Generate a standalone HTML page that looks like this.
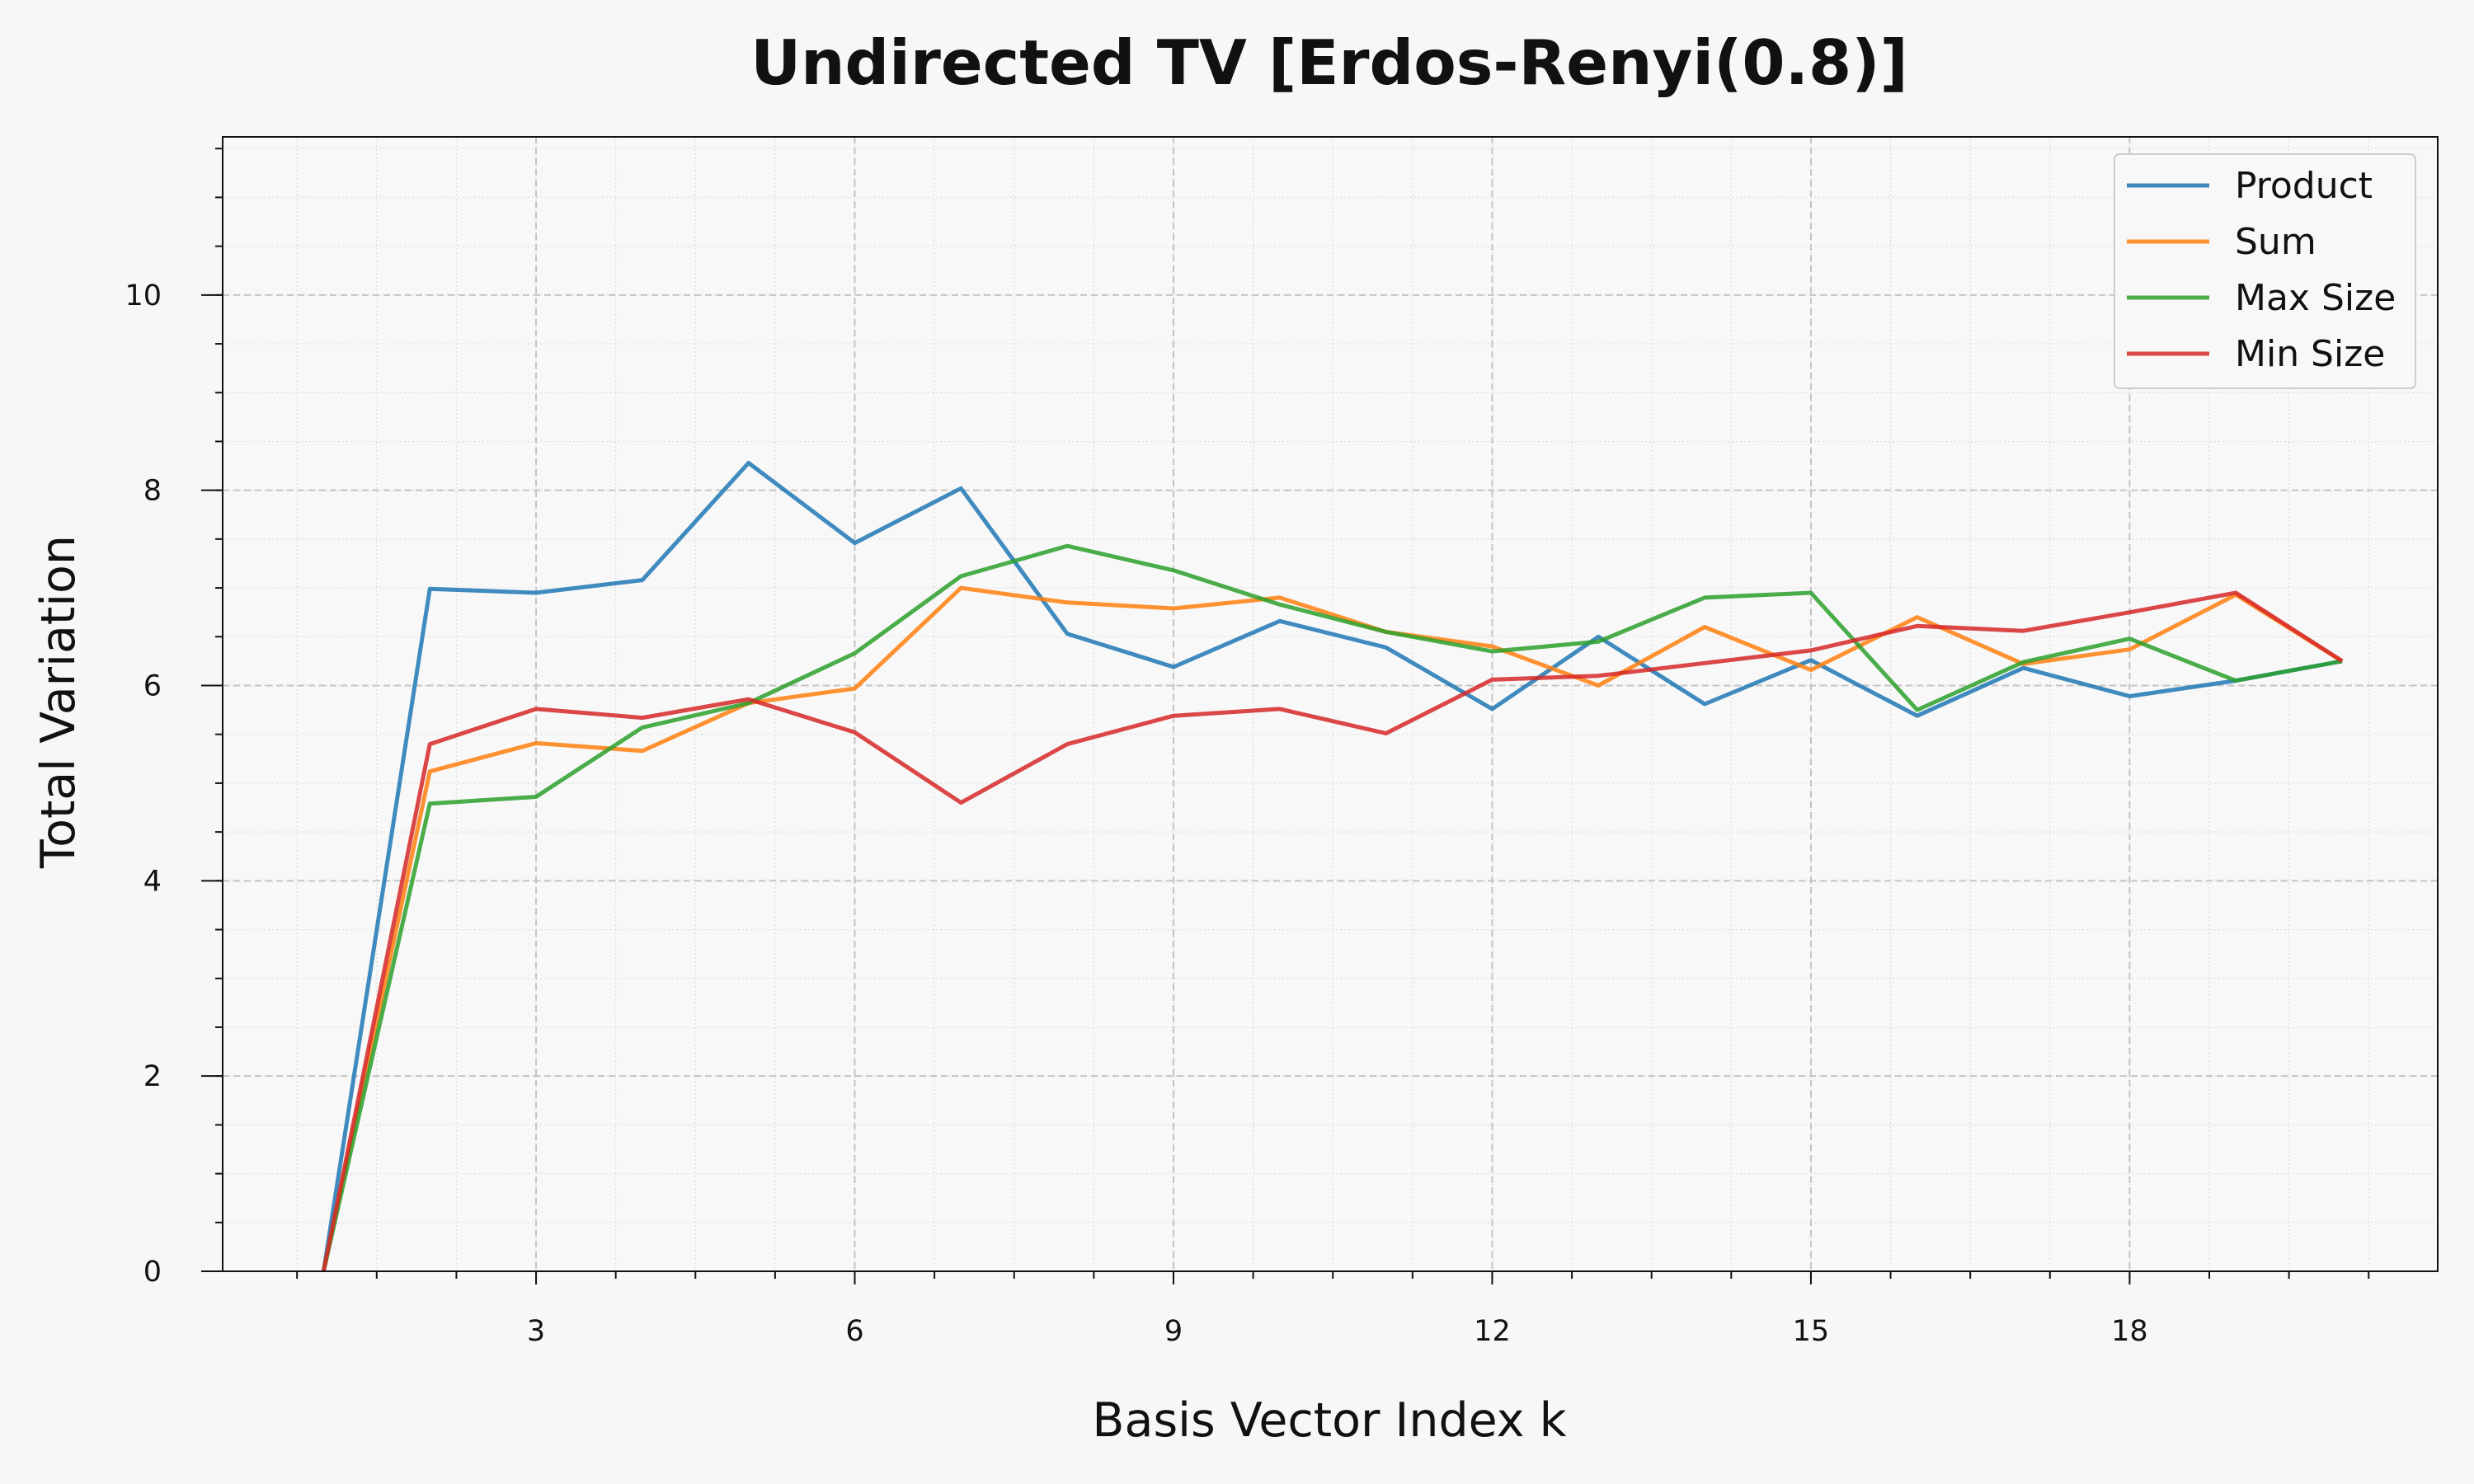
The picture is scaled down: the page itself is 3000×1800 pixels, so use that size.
<!DOCTYPE html>
<html><head><meta charset="utf-8"><style>
html,body{margin:0;padding:0;background:#f7f7f7;}
svg{display:block;font-family:"DejaVu Sans","Liberation Sans",sans-serif;}
</style></head><body>
<svg id="chart" width="3000" height="1800" viewBox="0 0 3000 1800">
<rect x="0" y="0" width="3000" height="1800" fill="#f7f7f7"/>
<text x="1612" y="102" text-anchor="middle" font-size="75" font-weight="bold" fill="#111">Undirected TV [Erdos-Renyi(0.8)]</text>
<g id="grid"></g>
<g id="axes"></g>
<g id="series"></g>
<rect x="270" y="166" width="2686" height="1376" fill="none" stroke="#111" stroke-width="2"/>
<text x="1612" y="1742" text-anchor="middle" font-size="57" fill="#111">Basis Vector Index k</text>
<text x="90" y="851" text-anchor="middle" font-size="57" fill="#111" transform="rotate(-90 90 851)">Total Variation</text>
<g id="legend"></g>
</svg>
<script>
const categories = [1,2,3,4,5,6,7,8,9,10,11,12,13,14,15,16,17,18,19,20];
const productVals = [0,6.99,6.95,7.08,8.28,7.46,8.02,6.53,6.19,6.66,6.39,5.76,6.5,5.81,6.26,5.69,6.18,5.89,6.05,6.25];
const sumVals = [0,5.12,5.41,5.33,5.82,5.97,7.0,6.85,6.79,6.9,6.55,6.4,6.0,6.6,6.16,6.7,6.22,6.37,6.93,6.25];
const maxSizeVals = [0,4.79,4.86,5.57,5.82,6.33,7.12,7.43,7.18,6.83,6.55,6.35,6.45,6.9,6.95,5.75,6.24,6.48,6.05,6.25];
const minSizeVals = [0,5.4,5.76,5.67,5.86,5.52,4.8,5.4,5.69,5.76,5.51,6.06,6.1,6.23,6.36,6.61,6.56,6.75,6.95,6.25];
const xTicks = [3,6,9,12,15,18];
const yTicks = [0,2,4,6,8,10];
const seriesNames = ["Product","Sum","Max Size","Min Size"];
const colors = ["#1f77b4","#ff7f0e","#2ca02c","#d62728"];

const NS="http://www.w3.org/2000/svg";
const L=270,R=2956,T=166,B=1542;
const xMin=0.05,xMax=20.9,yMin=0,yMax=11.62;
function xs(v){return L+(v-xMin)/(xMax-xMin)*(R-L);}
function ys(v){return B-(v-yMin)/(yMax-yMin)*(B-T);}
function mk(tag,attrs,parent){const e=document.createElementNS(NS,tag);for(const k in attrs)e.setAttribute(k,attrs[k]);parent.appendChild(e);return e;}
const grid=document.getElementById('grid'),axes=document.getElementById('axes'),ser=document.getElementById('series'),leg=document.getElementById('legend');
mk('rect',{x:L,y:T,width:R-L,height:B-T,fill:'#f8f8f8'},grid);
for(let v=0.75;v<xMax;v+=0.75){const x=xs(v);
 const l=mk('line',{x1:x,x2:x,y1:T,y2:B,stroke:'#ddd','stroke-width':1.2,'stroke-dasharray':'2,3'},grid);
 
 const t=mk('line',{x1:x,x2:x,y1:B,y2:B+9,stroke:'#111','stroke-width':2},axes);
 }
for(let v=0.5;v<yMax;v+=0.5){const y=ys(v);
 const l=mk('line',{x1:L,x2:R,y1:y,y2:y,stroke:'#ddd','stroke-width':1.2,'stroke-dasharray':'2,3'},grid);
 
 const t=mk('line',{x1:L-9,x2:L,y1:y,y2:y,stroke:'#111','stroke-width':2},axes);
 }
xTicks.forEach(v=>{const x=xs(v);
 const l=mk('line',{x1:x,x2:x,y1:T,y2:B,stroke:'#c4c4c4','stroke-width':2,'stroke-dasharray':'8,5'},grid);
 
 const t=mk('line',{x1:x,x2:x,y1:B,y2:B+16,stroke:'#111','stroke-width':2},axes);
 
 const tx=mk('text',{x:x,y:B+84,'text-anchor':'middle','font-size':35,fill:'#111'},axes);tx.textContent=v;
 });
yTicks.forEach(v=>{const y=ys(v);
 const l=mk('line',{x1:L,x2:R,y1:y,y2:y,stroke:'#c4c4c4','stroke-width':2,'stroke-dasharray':'8,5'},grid);
 
 const t=mk('line',{x1:L-26,x2:L,y1:y,y2:y,stroke:'#111','stroke-width':2},axes);
 
 const tx=mk('text',{x:L-74,y:y+12,'text-anchor':'end','font-size':35,fill:'#111'},axes);tx.textContent=v;
 });
[productVals,sumVals,maxSizeVals,minSizeVals].forEach((vals,i)=>{
 const pts=categories.map((c,j)=>xs(c).toFixed(1)+','+ys(vals[j]).toFixed(1)).join(' ');
 const p=mk('polyline',{points:pts,fill:'none',stroke:colors[i],'stroke-width':5,'stroke-opacity':0.85,'stroke-linejoin':'round'},ser);
 
 });
const lb=mk('rect',{x:2564,y:187,width:365,height:284,rx:6,fill:'#f8f8f8',stroke:'#ccc','stroke-width':2},leg);

seriesNames.forEach((n,i)=>{const y=225+i*68;
 const l=mk('line',{x1:2579,x2:2679,y1:y,y2:y,stroke:colors[i],'stroke-width':5,'stroke-opacity':0.85},leg);
 
 const t=mk('text',{x:2710,y:y+15,'font-size':44,fill:'#111'},leg);t.textContent=n;
 });
</script>
</body></html>
